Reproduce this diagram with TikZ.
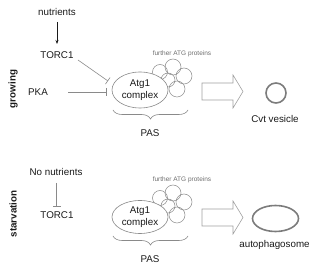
\documentclass[tikz,border=0pt]{standalone}
\usepackage{fontspec}
\setmainfont{Liberation Sans}
\usetikzlibrary{arrows.meta,shapes.geometric,decorations.pathreplacing}
\definecolor{ln}{HTML}{8A8A8A}
\definecolor{tx}{HTML}{1A1A1A}
\tikzset{
  lbl/.style={font=\fontsize{9.8}{11}\selectfont, text=tx, inner sep=1pt},
  side/.style={font=\fontsize{9.8}{11}\selectfont\bfseries, text=tx, rotate=90, inner sep=1pt},
  small/.style={font=\fontsize{6.5}{7}\selectfont, text=ln!80!black, inner sep=0pt},
  inhibit/.style={draw=ln, line width=0.6pt, -{Bar[width=8pt,line width=0.6pt]}},
  activate/.style={draw=tx, line width=0.6pt, -{Stealth[length=4pt,width=3pt]}},
  prot/.style={draw=ln, line width=0.5pt},
  cplx/.style={ellipse, draw=ln, line width=0.6pt, fill=white, minimum width=56pt, minimum height=36pt, inner sep=0pt, align=center, font=\fontsize{9.8}{12}\selectfont, text=tx},
  blockarrow/.style={draw=ln!80, line width=0.6pt, fill=white},
  ves/.style={draw=ln!90!black, line width=1.6pt},
  pasbrace/.style={draw=ln, line width=0.6pt, decorate, decoration={brace, amplitude=9pt}},
}
\begin{document}
\begin{tikzpicture}[x=1pt,y=-1pt]
\useasboundingbox (0,0) rectangle (330,275);
% ---------- growing ----------
\node[side] (grow) at (13,89) {growing};
\node[lbl] (nut) at (57,12) {nutrients};
\node[lbl] (torcA) at (57,55) {TORC1};
\node[lbl] (pka) at (38,92) {PKA};
\coordinate (nutS) at (57,22);
\coordinate (nutE) at (57,44);
\draw[activate] (nutS) -- (nutE);
% further ATG proteins
\foreach \cx/\cy/\r in {160/72/7.5, 173/67/8, 184/76/8, 168/80/7, 177/89/8}
  \draw[prot] (\cx,\cy) circle (\r);
\node[cplx] (atgA) at (140,90) {Atg1\\complex};
\node[small] (furA) at (182,54) {further ATG proteins};
\coordinate (tA) at (78,60);
\coordinate (tAe) at (108,81);
\coordinate (pA) at (68,92);
\coordinate (pAe) at (107,92);
\draw[inhibit] (tA) -- (tAe);
\draw[inhibit] (pA) -- (pAe);
\draw[pasbrace] (188,110) -- (113,110);
\node[lbl] (pasA) at (150,133) {PAS};
\draw[blockarrow] (202,83) -- (233,83) -- (233,75) -- (243,91.5) -- (233,108) -- (233,100) -- (202,100) -- cycle;
\draw[ves] (276,93) circle (10);
\node[lbl] (cvt) at (275,119) {Cvt vesicle};
% ---------- starvation ----------
\node[side] (starv) at (13,214) {starvation};
\node[lbl] (nonut) at (56,172) {No nutrients};
\node[lbl] (torcB) at (57,215) {TORC1};
\coordinate (nB) at (56.5,183);
\coordinate (nBe) at (56.5,207);
\draw[inhibit] (nB) -- (nBe);
\foreach \cx/\cy/\r in {160/198/7.5, 173/193/8, 184/202/8, 168/206/7, 177/215/8}
  \draw[prot] (\cx,\cy) circle (\r);
\node[cplx, minimum height=33pt] (atgB) at (140,217) {Atg1\\complex};
\node[small] (furB) at (182,180) {further ATG proteins};
\draw[pasbrace] (188,236) -- (113,236);
\node[lbl] (pasB) at (150,259) {PAS};
\draw[blockarrow] (202,209) -- (233,209) -- (233,201) -- (243,217.5) -- (233,234) -- (233,226) -- (202,226) -- cycle;
\draw[ves] (275.5,218.5) ellipse (23 and 13);
\node[lbl] (auto) at (274.5,245) {autophagosome};
\end{tikzpicture}
\end{document}
